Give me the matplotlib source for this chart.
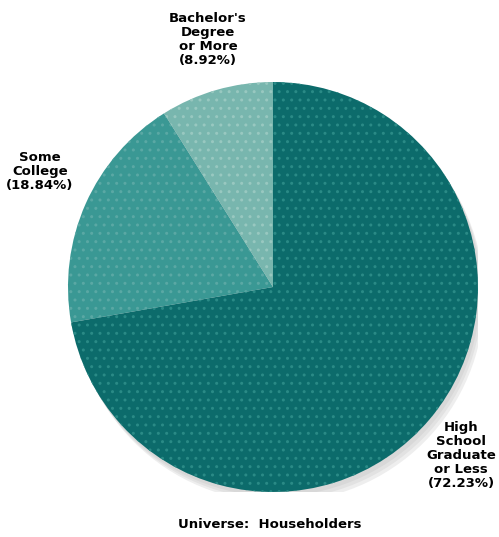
import matplotlib.pyplot as plt
from matplotlib.patches import Circle

categories = ["High\nSchool\nGraduate\nor Less", "Some\nCollege", "Bachelor's\nDegree\nor More"]
shares = [72.23, 18.84, 8.92]
colors = ["#0c6b6b", "#3a9894", "#78b6ae"]
dots = ["#2a8a86", "#5aa8a4", "#98c8c0"]

plt.rcParams["font.family"] = ["DejaVu Sans"]

W, H = 499, 537
fig = plt.figure(figsize=(W / 100, H / 100), dpi=100)
cx, cy, r = 273, 287, 205
ax = fig.add_axes([(cx - r) / W, (H - cy - r) / H, 2 * r / W, 2 * r / H])

# soft drop shadow under the pie
for off, c in [(0.05, "#eeeeee"), (0.035, "#e2e2e2"), (0.02, "#d8d8d8")]:
    ax.add_patch(Circle((off * 0.6, -off), 1.0, color=c, lw=0, zorder=0))

wedges, _ = ax.pie(shares, colors=colors, startangle=90, counterclock=False,
                   radius=1.0, center=(0, 0), frame=True,
                   wedgeprops=dict(linewidth=0))
for w, d in zip(wedges, dots):
    w.set_hatch("..")
    w.set_edgecolor(d)
    w.set_linewidth(0)
    w.set_zorder(2)
ax.set_xlim(-1, 1)
ax.set_ylim(-1, 1)
ax.set_aspect("equal")
ax.axis("off")

label_pos = [(0.917, -0.82), (-1.137, 0.561), (-0.317, 1.205)]
for name, v, (x, y) in zip(categories, shares, label_pos):
    ax.text(x, y, f"{name}\n({v:.2f}%)", ha="center", va="center",
            fontsize=9.5, fontweight="bold", linespacing=1.1, clip_on=False)

fig.text(270 / W, 1 - 524 / H, "Universe:  Householders", ha="center", va="center",
         fontsize=9.5, fontweight="bold")

fig.savefig("out.png", dpi=100, facecolor="white")
